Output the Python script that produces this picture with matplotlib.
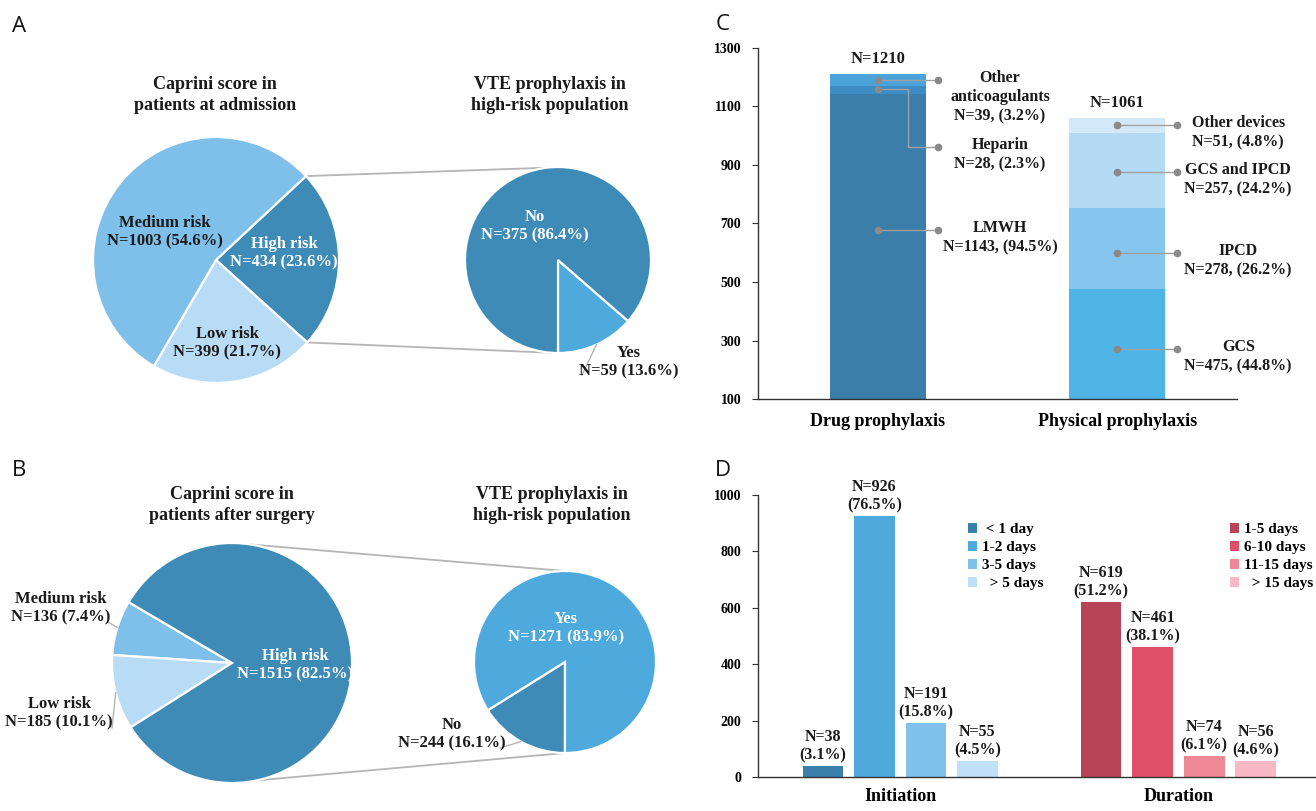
import numpy as np
import matplotlib
matplotlib.use("Agg")
import matplotlib.pyplot as plt

# ---------------- data ----------------
# Panel A
a_adm_labels = ["High risk", "Low risk", "Medium risk"]
a_adm_n = [434, 399, 1003]
a_adm_pct = [23.6, 21.7, 54.6]
a_vte_labels = ["Yes", "No"]
a_vte_n = [59, 375]
a_vte_pct = [13.6, 86.4]
# Panel B
b_surg_labels = ["Medium risk", "Low risk", "High risk"]
b_surg_n = [136, 185, 1515]
b_surg_pct = [7.4, 10.1, 82.5]
b_vte_labels = ["No", "Yes"]
b_vte_n = [244, 1271]
b_vte_pct = [16.1, 83.9]
# Panel C
c_categories = ["Drug prophylaxis", "Physical prophylaxis"]
c_drug_labels = ["LMWH", "Heparin", "Other\nanticoagulants"]
c_drug_n = [1143, 28, 39]
c_drug_pct = [94.5, 2.3, 3.2]
c_phys_labels = ["GCS", "IPCD", "GCS and IPCD", "Other devices"]
c_phys_n = [475, 278, 257, 51]
c_phys_pct = [44.8, 26.2, 24.2, 4.8]
c_totals = [1210, 1061]
c_yticks = [100, 300, 500, 700, 900, 1100, 1300]
# Panel D
d_groups = ["Initiation", "Duration"]
d_init_labels = [" < 1 day", "1-2 days", "3-5 days", "  > 5 days"]
d_init_n = [38, 926, 191, 55]
d_init_pct = [3.1, 76.5, 15.8, 4.5]
d_dur_labels = ["1-5 days", "6-10 days", "11-15 days", "  > 15 days"]
d_dur_n = [619, 461, 74, 56]
d_dur_pct = [51.2, 38.1, 6.1, 4.6]
d_yticks = [0, 200, 400, 600, 800, 1000]

# ---------------- style ----------------
plt.rcParams['font.family'] = ['Liberation Serif', 'DejaVu Serif']
plt.rcParams['font.weight'] = 'bold'
W, H = 1316, 811
fig = plt.figure(figsize=(W / 100, H / 100), dpi=100)

DARK = '#3f8bb8'
MED = '#7fc0ea'
LIGHT = '#b8dcf5'
YES = '#4ea9dc'
TXT = '#1a1a1a'
GREY = '#b5b5b5'


def Y(py):
    return H - py


bg = fig.add_axes([0, 0, 1, 1])
wp = dict(edgecolor='white', linewidth=1.6)


def pt(center, r, ang):
    a = np.deg2rad(ang)
    return center[0] + r * np.cos(a), center[1] + r * np.sin(a)


# ---- Panel A pies ----
cA1, rA1 = (216, Y(260)), 123
wA1, _ = bg.pie(a_adm_n, radius=rA1, center=cA1, startangle=43, counterclock=False,
                colors=[DARK, LIGHT, MED], wedgeprops=wp)
cA2, rA2 = (558, Y(260)), 93
wA2, _ = bg.pie(a_vte_n, radius=rA2, center=cA2, startangle=-90, counterclock=True,
                colors=[YES, DARK], wedgeprops=wp)
# ---- Panel B pies ----
cB1, rB1 = (232, Y(663)), 120
wB1, _ = bg.pie(b_surg_n, radius=rB1, center=cB1, startangle=149.5, counterclock=True,
                colors=[MED, LIGHT, DARK], wedgeprops=wp)
cB2, rB2 = (565, Y(662)), 91
wB2, _ = bg.pie(b_vte_n, radius=rB2, center=cB2, startangle=212, counterclock=True,
                colors=[DARK, YES], wedgeprops=wp)

bg.set_xlim(0, W)
bg.set_ylim(0, H)
bg.set_aspect('auto')
bg.set_axis_off()

# connector lines A (from edges of high-risk wedge)
hw = wA1[0]
p1 = pt(cA1, rA1, hw.theta2)
p2 = pt(cA1, rA1, hw.theta1)
q1 = pt(cA2, rA2, 97)
q2 = pt(cA2, rA2, 268)
bg.plot([p1[0], q1[0]], [p1[1], q1[1]], color=GREY, lw=1.3, zorder=0)
bg.plot([p2[0], q2[0]], [p2[1], q2[1]], color=GREY, lw=1.3, zorder=0)
# connector lines B
p1 = pt(cB1, rB1, 81)
p2 = pt(cB1, rB1, -78)
q1 = pt(cB2, rB2, 90)
q2 = pt(cB2, rB2, 270)
bg.plot([p1[0], q1[0]], [p1[1], q1[1]], color=GREY, lw=1.3, zorder=0)
bg.plot([p2[0], q2[0]], [p2[1], q2[1]], color=GREY, lw=1.3, zorder=0)


def lab(x, ycenter, s, color=TXT, size=12):
    bg.text(x, Y(ycenter), s, ha='center', va='center', fontsize=size,
            color=color, fontweight='bold', linespacing=1.2)


def plab(name, n, p):
    return f"{name}\nN={n} ({p}%)"


# titles
tkw = dict(ha='center', va='center', fontsize=13, fontweight='bold', linespacing=1.25, color=TXT)
bg.text(215, Y(95), "Caprini score in\npatients at admission", **tkw)
bg.text(550, Y(95), "VTE prophylaxis in\nhigh-risk population", **tkw)
bg.text(232, Y(505), "Caprini score in\npatients after surgery", **tkw)
bg.text(552, Y(505), "VTE prophylaxis in\nhigh-risk population", **tkw)

# Panel A labels
lab(284, 253, plab(a_adm_labels[0], a_adm_n[0], a_adm_pct[0]), color='white')
lab(227, 343, plab(a_adm_labels[1], a_adm_n[1], a_adm_pct[1]))
lab(165, 232, plab(a_adm_labels[2], a_adm_n[2], a_adm_pct[2]))
lab(535, 226, plab(a_vte_labels[1], a_vte_n[1], a_vte_pct[1]), color='white')
lab(629, 362, plab(a_vte_labels[0], a_vte_n[0], a_vte_pct[0]))
yw = wA2[0]
e = pt(cA2, rA2, (yw.theta1 + yw.theta2) / 2)
bg.plot([582, e[0]], [Y(375), e[1]], color=GREY, lw=1)

# Panel B labels
lab(295, 665, plab(b_surg_labels[2], b_surg_n[2], b_surg_pct[2]), color='white')
lab(61, 608, plab(b_surg_labels[0], b_surg_n[0], b_surg_pct[0]))
lab(59, 713, plab(b_surg_labels[1], b_surg_n[1], b_surg_pct[1]))
lab(566, 628, plab(b_vte_labels[1], b_vte_n[1], b_vte_pct[1]), color='white')
lab(452, 734, plab(b_vte_labels[0], b_vte_n[0], b_vte_pct[0]))
mw = wB1[0]
e = pt(cB1, rB1, (mw.theta1 + mw.theta2) / 2)
bg.plot([108, e[0]], [Y(622), e[1]], color=GREY, lw=1)
lw_ = wB1[1]
e = pt(cB1, rB1, (lw_.theta1 + lw_.theta2) / 2)
bg.plot([112, e[0]], [Y(728), e[1]], color=GREY, lw=1)
nw = wB2[0]
e = pt(cB2, rB2, (nw.theta1 + nw.theta2) / 2)
bg.plot([500, e[0]], [Y(748), e[1]], color=GREY, lw=1)

# panel letters
for s, x, y in [("A", 19, 27), ("B", 19, 470), ("C", 723, 25), ("D", 723, 470)]:
    bg.text(x, Y(y), s, ha='center', va='center', fontsize=16,
            family='Open Sans', fontweight='normal', color='#111111')

# ---------------- Panel C ----------------
axc = fig.add_axes([758 / W, (H - 399) / H, (1237 - 758) / W, (399 - 48) / H])
x = np.arange(len(c_categories))
bw = 0.4
drug_cols = ['#3b7ea9', '#3d8cc3', '#4ba3da']
phys_cols = ['#4fb4e6', '#86c5ee', '#b5daf5', '#d3e8f8']
ymin = c_yticks[0]

DOT = '#8a8a8a'


def annotate_stack(xc, ns, labels, pcts, cols, xlab, shifts=None, label_drop=None):
    bottom = 0
    for i, (n, l, p, c) in enumerate(zip(ns, labels, pcts, cols)):
        axc.bar(xc, n, bw, bottom=bottom, color=c, edgecolor='none', zorder=2)
        mid = (max(bottom, ymin) + bottom + n) / 2
        if shifts:
            mid += shifts[i]
        ly = mid + (label_drop[i] if label_drop else 0)
        xd = xc + 0.25
        if ly != mid:
            xe = xc + 0.125
            axc.plot([xc, xe, xe, xd], [mid, mid, ly, ly], color='#a0a0a0', lw=1, zorder=3,
                     clip_on=False)
        else:
            axc.plot([xc, xd], [mid, ly], color='#a0a0a0', lw=1, zorder=3, clip_on=False)
        axc.plot([xc, xd], [mid, ly], ls='none', marker='o', ms=4.5, color=DOT, zorder=4,
                 clip_on=False)
        axc.annotate(f"{l}\nN={n}, ({p}%)", xy=(xlab, ly), xytext=(0, 7),
                     textcoords='offset points', ha='center', va='top', fontsize=11.5,
                     fontweight='bold', color=TXT, linespacing=1.25, annotation_clip=False)
        bottom += n
    return bottom


annotate_stack(x[0], c_drug_n, c_drug_labels, c_drug_pct, drug_cols, x[0] + 0.51,
               shifts=[57, 3, 0], label_drop=[0, -198, 0])
annotate_stack(x[1], c_phys_n, c_phys_labels, c_phys_pct, phys_cols, x[1] + 0.505,
               shifts=[-16, -15, -5, 2])
for xi, t in zip(x, c_totals):
    axc.annotate(f"N={t}", xy=(xi, t), xytext=(0, 5), textcoords='offset points',
                 ha='center', va='bottom', fontsize=12, fontweight='bold', color=TXT)

axc.set_ylim(c_yticks[0], c_yticks[-1])
axc.set_xlim(-0.5, 1.5)
axc.set_yticks(c_yticks)
axc.set_xticks(x)
axc.set_xticklabels(c_categories, fontsize=13, fontweight='bold')
axc.tick_params(axis='y', labelsize=10, length=4, pad=8, color='#333333')
axc.tick_params(axis='x', length=0, pad=10)
for s in ['top', 'right']:
    axc.spines[s].set_visible(False)
for s in ['left', 'bottom']:
    axc.spines[s].set_color('#333333')
    axc.spines[s].set_linewidth(1)
axc.set_facecolor('none')

# ---------------- Panel D ----------------
axd = fig.add_axes([758 / W, (H - 777) / H, (W - 758) / W, (777 - 495) / H])
init_cols = ['#3b80ad', '#4fa9dc', '#80c2ec', '#bfe0f6']
dur_cols = ['#b84557', '#e05169', '#ee8796', '#f8b9c4']
xi = np.arange(4)
xd_ = np.arange(4) + 5.4
bwd = 0.79
bars_i = []
for xx, n, p, c, l in zip(xi, d_init_n, d_init_pct, init_cols, d_init_labels):
    b = axd.bar(xx, n, bwd, color=c, label=l)
    bars_i.append(b)
    axd.annotate(f"N={n}\n({p}%)", xy=(xx, n), xytext=(0, 2), textcoords='offset points',
                 ha='center', va='bottom', fontsize=11.5, fontweight='bold', color=TXT,
                 linespacing=1.2)
bars_d = []
for xx, n, p, c, l in zip(xd_, d_dur_n, d_dur_pct, dur_cols, d_dur_labels):
    b = axd.bar(xx, n, bwd, color=c, label=l)
    bars_d.append(b)
    axd.annotate(f"N={n}\n({p}%)", xy=(xx, n), xytext=(0, 2), textcoords='offset points',
                 ha='center', va='bottom', fontsize=11.5, fontweight='bold', color=TXT,
                 linespacing=1.2)
axd.set_xlim(-1.26, 9.57)
axd.set_ylim(d_yticks[0], d_yticks[-1])
axd.set_yticks(d_yticks)
axd.set_xticks([xi.mean(), xd_.mean()])
axd.set_xticklabels(d_groups, fontsize=13, fontweight='bold')
axd.tick_params(axis='y', labelsize=10, length=4, pad=8, color='#333333')
axd.tick_params(axis='x', length=0, pad=8)
for s in ['top', 'right']:
    axd.spines[s].set_visible(False)
for s in ['left', 'bottom']:
    axd.spines[s].set_color('#333333')
    axd.spines[s].set_linewidth(1)
axd.set_facecolor('none')

lkw = dict(loc='upper left', frameon=False, handlelength=0.6, handleheight=0.6,
           handletextpad=0.3, labelspacing=0.31, borderaxespad=0, borderpad=0,
           prop={'family': 'Liberation Serif', 'weight': 'bold', 'size': 11},
           bbox_transform=fig.transFigure)
leg1 = axd.legend(handles=bars_i, labels=d_init_labels,
                  bbox_to_anchor=(968 / W, 1 - 523 / H), **lkw)
axd.add_artist(leg1)
leg2 = axd.legend(handles=bars_d, labels=d_dur_labels,
                  bbox_to_anchor=(1230 / W, 1 - 523 / H), **lkw)

fig.savefig("out.png", dpi=100, facecolor='white')
